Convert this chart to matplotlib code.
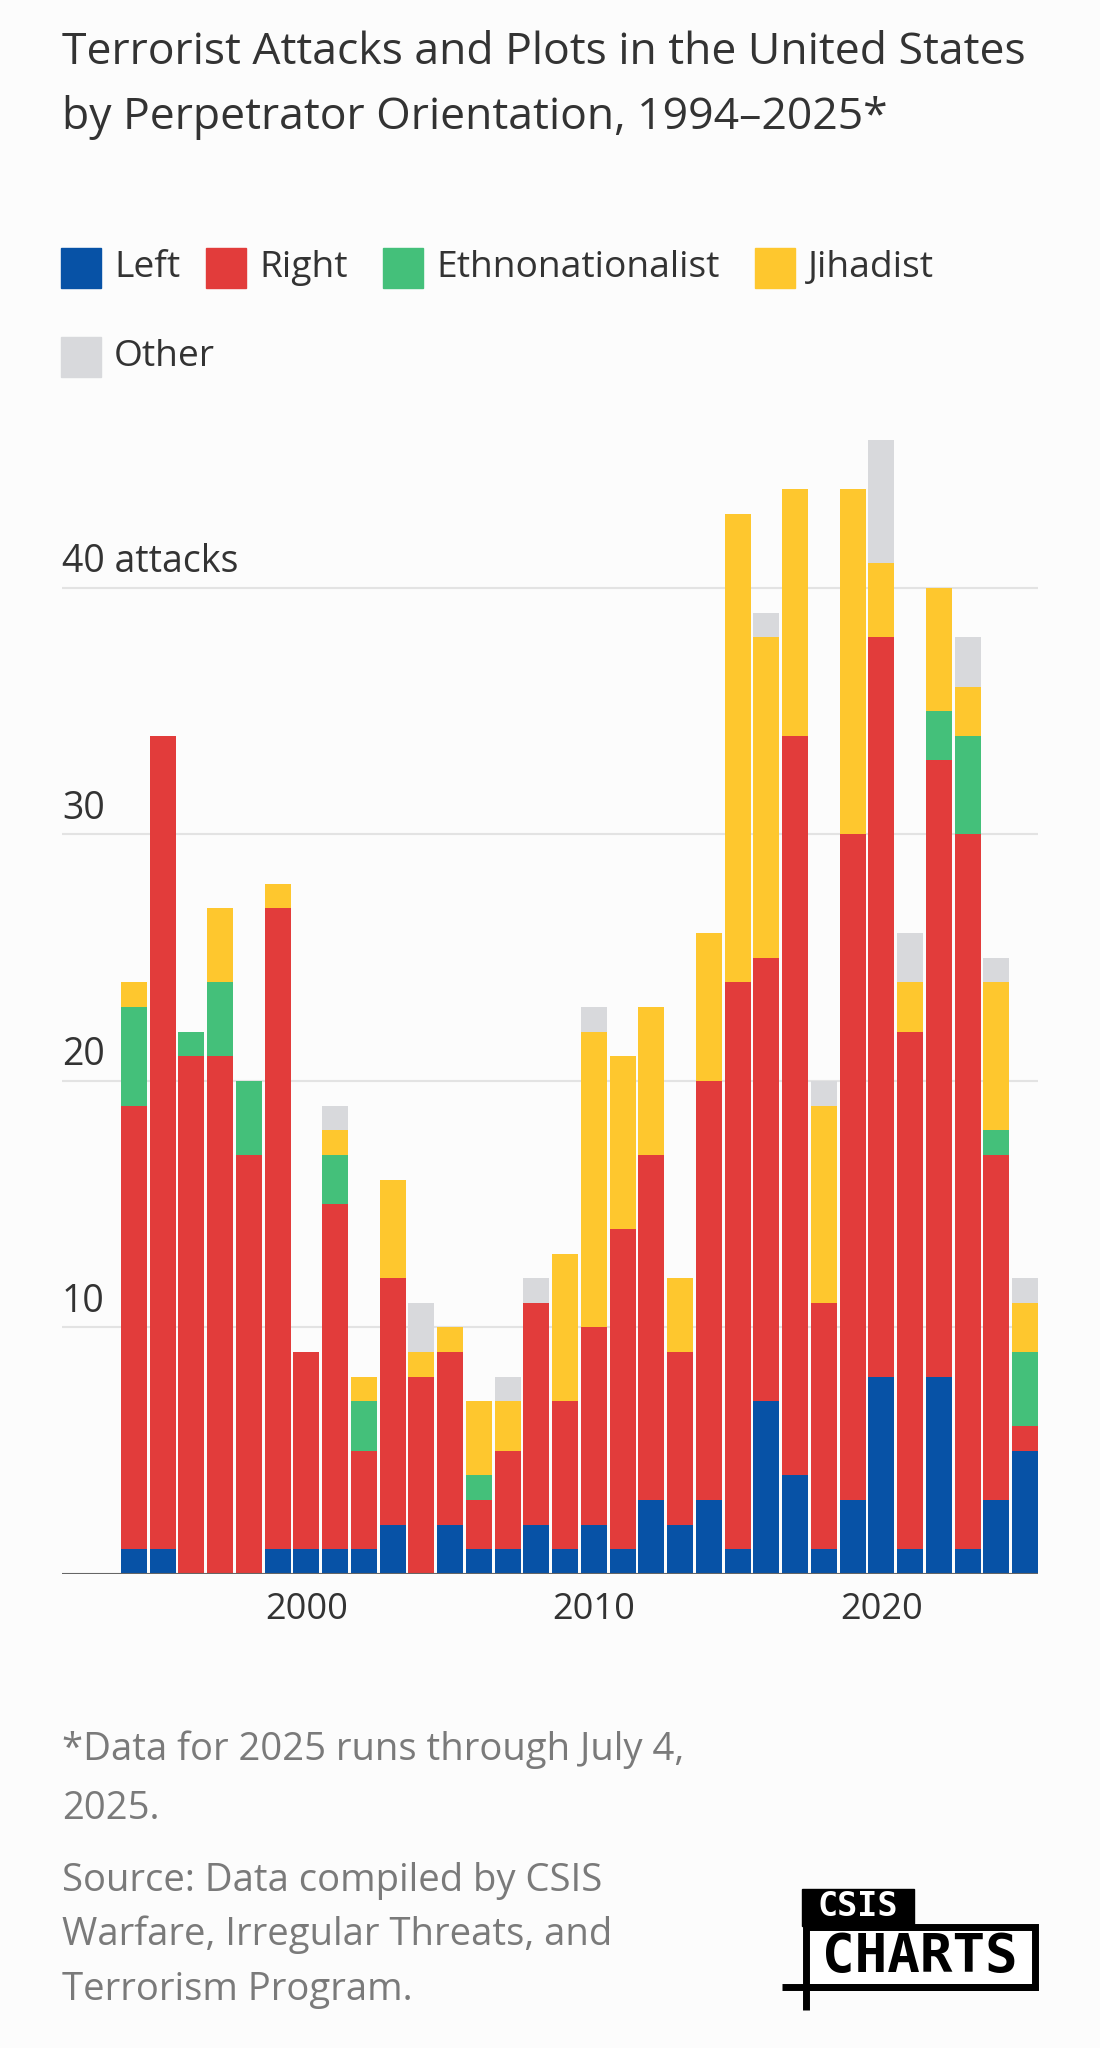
import matplotlib.pyplot as plt
from matplotlib.patches import Rectangle
from matplotlib.lines import Line2D

years = list(range(1994, 2026))
left = [1, 1, 0, 0, 0, 1, 1, 1, 1, 2, 0, 2, 1, 1, 2, 1,
        2, 1, 3, 2, 3, 1, 7, 4, 1, 3, 8, 1, 8, 1, 3, 5]
right = [18, 33, 21, 21, 17, 26, 8, 14, 4, 10, 8, 7, 2, 4, 9, 6,
         8, 13, 14, 7, 17, 23, 18, 30, 10, 27, 30, 21, 25, 29, 14, 1]
ethno = [4, 0, 1, 3, 3, 0, 0, 2, 2, 0, 0, 0, 1, 0, 0, 0,
         0, 0, 0, 0, 0, 0, 0, 0, 0, 0, 0, 0, 2, 4, 1, 3]
jihadist = [1, 0, 0, 3, 0, 1, 0, 1, 1, 4, 1, 1, 3, 2, 0, 6,
            12, 7, 6, 3, 6, 19, 13, 10, 8, 14, 3, 2, 5, 2, 6, 2]
other = [0, 0, 0, 0, 0, 0, 0, 1, 0, 0, 2, 0, 0, 1, 1, 0,
         1, 0, 0, 0, 0, 0, 1, 0, 1, 0, 5, 2, 0, 2, 1, 1]

series = [
    ("Left", left, "#0752a6"),
    ("Right", right, "#e23c3b"),
    ("Ethnonationalist", ethno, "#44c07a"),
    ("Jihadist", jihadist, "#fec72e"),
    ("Other", other, "#d8d9dc"),
]
y_ticks = [10, 20, 30, 40]
x_ticks = [2000, 2010, 2020]

W, H = 1100, 2048
BG = "#fcfcfc"
TEXT = "#333333"
GRAY = "#7a7a7a"
plt.rcParams["font.family"] = ["Open Sans", "DejaVu Sans"]

fig = plt.figure(figsize=(W / 100, H / 100), dpi=100, facecolor=BG)


def fx(px):
    return px / W


def fy(py):
    return 1 - py / H


# title
fig.text(fx(62), fy(53), "Terrorist Attacks and Plots in the United States",
         fontsize=32, color=TEXT, va="center")
fig.text(fx(62), fy(117), "by Perpetrator Orientation, 1994\u20132025*",
         fontsize=32, color=TEXT, va="center")

# legend
legend_rows = [(268, [(61, 0), (206, 1), (383, 2), (755, 3)]), (357, [(61, 4)])]
for yc, items in legend_rows:
    for xp, idx in items:
        name, _, color = series[idx]
        fig.patches.append(Rectangle((fx(xp), fy(yc + 20)), fx(40), 40 / H,
                                     transform=fig.transFigure, color=color))
        fig.text(fx(xp + 53), fy(yc), name, fontsize=26.8, color=TEXT, va="center")

# chart
ax = fig.add_axes([fx(62), fy(1574), fx(1038 - 62), (1574 - 440) / H])
ax.set_facecolor(BG)
bottom = [0] * len(years)
for name, vals, color in series:
    ax.bar(years, vals, bottom=bottom, width=0.9, color=color, zorder=3)
    bottom = [b + v for b, v in zip(bottom, vals)]

ax.set_xlim(1991.5, 2025.45)
ax.set_ylim(0, 46)
for v in y_ticks:
    ax.axhline(v, color="#e3e3e3", linewidth=1.5, zorder=1)
    label = f"{v} attacks" if v == y_ticks[-1] else str(v)
    ax.text(1991.5, v + 1.05, label, fontsize=27, color=TEXT, va="center", ha="left")
ax.axhline(0, color="#666666", linewidth=1.5, zorder=4)

ax.set_yticks([])
ax.set_xticks(x_ticks)
ax.set_xticklabels([str(t) for t in x_ticks], fontsize=26, color=TEXT)
ax.tick_params(axis="x", length=0, pad=13)
for s in ax.spines.values():
    s.set_visible(False)

# notes
notes = [
    (1750, "*Data for 2025 runs through July 4,"),
    (1809, "2025."),
    (1881, "Source: Data compiled by CSIS"),
    (1935, "Warfare, Irregular Threats, and"),
    (1990, "Terrorism Program."),
]
for yp, txt in notes:
    fig.text(fx(62), fy(yp), txt, fontsize=27.5, color=GRAY, va="center")

# CSIS CHARTS logo
mono = ["DejaVu Sans Mono"]
fig.patches.append(Rectangle((fx(802), fy(1926)), fx(112), 37 / H,
                             transform=fig.transFigure, color="black"))
fig.text(fx(858), fy(1907), "CSIS", fontsize=24, color="white", va="center",
         ha="center", fontweight="bold", family=mono)
fig.patches.append(Rectangle((fx(805.5), fy(1986.5)), fx(229), 60 / H,
                             transform=fig.transFigure, facecolor="white",
                             edgecolor="black", linewidth=5))
fig.text(fx(920), fy(1957), "CHARTS", fontsize=39, color="black", va="center",
         ha="center", fontweight="bold", family=mono)
fig.lines.append(Line2D([fx(782), fx(1038)], [fy(1986.5), fy(1986.5)],
                        transform=fig.transFigure, color="black", linewidth=5,
                        solid_capstyle="butt"))
fig.lines.append(Line2D([fx(805.5), fx(805.5)], [fy(1986), fy(2010)],
                        transform=fig.transFigure, color="black", linewidth=5,
                        solid_capstyle="butt"))

fig.savefig("out.png", dpi=100, facecolor=BG)
